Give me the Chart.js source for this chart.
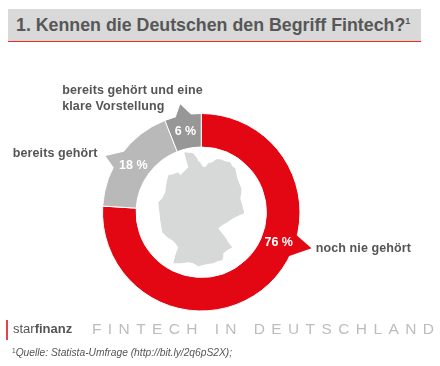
<!DOCTYPE html>
<html lang="de">
<head>
<meta charset="utf-8">
<title>Fintech</title>
<script src="https://cdn.jsdelivr.net/npm/chart.js@4"></script>
<style>
html, body { margin: 0; padding: 0; background: #fff; }
body { position: relative; width: 440px; height: 366px; overflow: hidden; font-family: "Liberation Sans", Arial, sans-serif; }
canvas { position: absolute; left: 0; top: 0; }
.head { position: absolute; left: 8px; top: 9px; width: 413px; height: 32px; background: #d9d9d9; border-bottom: 1px solid #ee2a20; }
.head span { position: absolute; left: 8px; top: 6px; font-size: 17.8px; font-weight: bold; color: #575757; white-space: nowrap; }
.head sup { font-size: 9px; line-height: 0; vertical-align: 7px; }
.bar { position: absolute; left: 6px; top: 320px; width: 2px; height: 20px; background: #e2444a; }
.brand { position: absolute; left: 13px; top: 321px; font-size: 13px; color: #555; white-space: nowrap; }
.claim { position: absolute; left: 92px; top: 320px; font-size: 15.5px; color: #bdbdbd; letter-spacing: 6.4px; white-space: nowrap; }
.src { position: absolute; left: 12px; top: 347px; font-size: 10.25px; font-style: italic; color: #555; white-space: nowrap; }
.src sup { font-size: 6.5px; line-height: 0; vertical-align: 3px; font-style: normal; }
</style>
</head>
<body>
<canvas id="fintechChart" width="440" height="366"></canvas>
<div class="head"><span>1. Kennen die Deutschen den Begriff Fintech?<sup>1</sup></span></div>
<div class="bar"></div>
<div class="brand">star<b>finanz</b></div>
<div class="claim">FINTECH IN DEUTSCHLAND</div>
<div class="src"><sup>1</sup>Quelle: Statista-Umfrage (http://bit.ly/2q6pS2X);</div>
<script>
// Umfragewerte
var categories = ['noch nie gehört', 'bereits gehört', 'bereits gehört und eine klare Vorstellung'];
var values = [76, 18, 6];
var colors = ['#e30613', '#b9b9b9', '#979797'];

// Beschriftung: Zeilen und Versatz zur Kreismitte
var labelLines = [['noch nie gehört'], ['bereits gehört'], ['bereits gehört und eine', 'klare Vorstellung']];
var labelOffsets = [[114.5, 40], [-188.5, -55], [-139, -118]];

// Position der Prozentzahl (Grad im Uhrzeigersinn ab oben)
var percentAngles = [111, 305, 349];

// Zacken am Ring: Basis1, Basis2, Spitze (Grad) und Radius der Spitze
var tails = [[103.4, 116.7, 108.1, 116], [296.9, 308.5, 300.4, 111], [344.7, 354.3, 349, 110]];

// Umriss Deutschland, relativ zur Kreismitte
var germanyOutline = [
    [-17, -60], [-8, -59], [-4, -54], [-3, -51], [-1, -50], [1, -46], [4, -45], [7, -49], [11, -50], [15, -53], [19, -53],
    [24, -51], [29, -50], [31, -46], [34, -44], [35, -39], [36, -34], [38, -29], [40, -24], [40, -19], [39, -14], [41, -7],
    [43, 1], [38, 3], [32, 6], [26, 10], [21, 13], [17, 16], [20, 20], [24, 25], [27, 30], [31, 35], [26, 38], [22, 41],
    [22, 45], [21, 48], [16, 49], [12, 51], [5, 52], [-3, 54], [-8, 51], [-13, 50], [-20, 51], [-28, 51], [-26, 43],
    [-23, 35], [-26, 31], [-29, 28], [-34, 25], [-39, 20], [-40, 14], [-41, 8], [-42, -1], [-43, -10], [-39, -14],
    [-36, -20], [-35, -28], [-33, -37], [-28, -38], [-23, -40], [-21, -37], [-17, -41], [-13, -45], [-15, -52]
];

function toPoint(cx, cy, deg, r) {
    var rad = deg * Math.PI / 180;
    return [cx + Math.sin(rad) * r, cy - Math.cos(rad) * r];
}

var ringExtras = {
    id: 'ringExtras',
    afterDatasetsDraw: function(chart) {
        var ctx = chart.ctx;
        var arcs = chart.getDatasetMeta(0).data;
        var cx = arcs[0].x, cy = arcs[0].y;
        var outer = arcs[0].outerRadius, inner = arcs[0].innerRadius;
        var mid = (outer + inner) / 2;
        ctx.save();

        // Zacken
        tails.forEach(function(t, i) {
            var a = toPoint(cx, cy, t[0], outer - 1);
            var b = toPoint(cx, cy, t[1], outer - 1);
            var tip = toPoint(cx, cy, t[2], t[3]);
            ctx.beginPath();
            ctx.moveTo(a[0], a[1]);
            ctx.lineTo(tip[0], tip[1]);
            ctx.lineTo(b[0], b[1]);
            ctx.closePath();
            ctx.fillStyle = colors[i];
            ctx.fill();
        });

        // Deutschlandkarte
        ctx.beginPath();
        germanyOutline.forEach(function(p, i) {
            if (i === 0) ctx.moveTo(cx + p[0], cy + p[1]);
            else ctx.lineTo(cx + p[0], cy + p[1]);
        });
        ctx.closePath();
        ctx.fillStyle = '#d7d8d8';
        ctx.fill();

        // Prozentzahlen
        ctx.font = 'bold 12.5px "Liberation Sans", Arial, sans-serif';
        ctx.fillStyle = '#fff';
        ctx.textAlign = 'center';
        ctx.textBaseline = 'middle';
        values.forEach(function(v, i) {
            var p = toPoint(cx, cy, percentAngles[i], mid + 1);
            ctx.fillText(v + ' %', p[0], p[1] + 1);
        });

        // Kategorien
        ctx.font = 'bold 12.5px "Liberation Sans", Arial, sans-serif';
        ctx.fillStyle = '#555';
        ctx.textAlign = 'left';
        ctx.textBaseline = 'alphabetic';
        ctx.letterSpacing = '0.1px';
        labelLines.forEach(function(lines, i) {
            lines.forEach(function(line, k) {
                ctx.fillText(line, cx + labelOffsets[i][0], cy + labelOffsets[i][1] + k * 15.5);
            });
        });
        ctx.restore();
    }
};

var ctx = document.getElementById('fintechChart').getContext('2d');
var fintechChart = new Chart(ctx, {
    type: 'doughnut',
    data: {
        labels: categories,
        datasets: [{
            data: values,
            backgroundColor: colors,
            borderColor: '#fff',
            borderWidth: 1
        }]
    },
    options: {
        responsive: false,
        animation: false,
        cutout: '66%',
        layout: { padding: { left: 102, right: 139.5, top: 113, bottom: 54.5 } },
        plugins: {
            legend: { display: false },
            tooltip: { enabled: false }
        }
    },
    plugins: [ringExtras]
});
</script>
</body>
</html>
